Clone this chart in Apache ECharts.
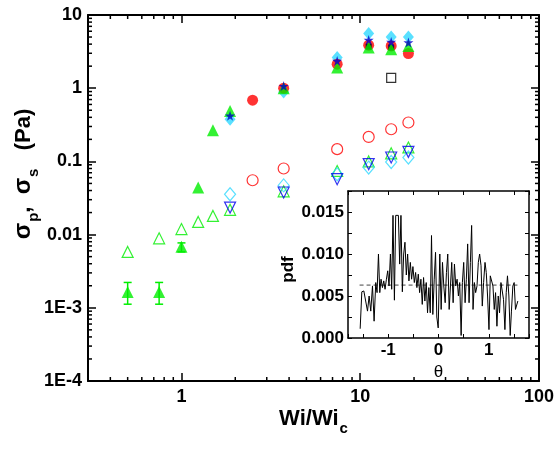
<!DOCTYPE html>
<html><head><meta charset="utf-8">
<script src="https://cdn.jsdelivr.net/npm/echarts@6/dist/echarts.min.js"></script>
<style>html,body{margin:0;padding:0;background:#fff}#c{width:557px;height:449px}</style>
</head><body><div id="c"></div>
<script>
// ---------- main plot data ----------
const greenFilledX = [0.5, 0.75, 1.0, 1.24, 1.5, 1.87, 3.73, 7.43, 11.15, 14.9, 18.6];
const greenFilledY = [0.00165, 0.00165, 0.0068, 0.044, 0.267, 0.49, 1.0, 1.92, 3.6, 3.41, 3.78];
const errX = [0.5, 0.75, 1.0];
const errLow = [0.00112, 0.00112, 0.0058];
const errHigh = [0.00222, 0.00222, 0.0077];
const greenOpenX = [0.5, 0.75, 1.0, 1.24, 1.5, 1.87, 3.73, 7.43, 11.15, 14.9, 18.6];
const greenOpenY = [0.0058, 0.0089, 0.0119, 0.0149, 0.018, 0.0218, 0.039, 0.074, 0.10, 0.129, 0.155];
const redX = [2.5, 3.73, 7.43, 11.15, 14.9, 18.6];
const redFilledY = [0.685, 1.0, 2.13, 3.87, 3.78, 2.98];
const redOpenY = [0.0553, 0.080, 0.147, 0.216, 0.275, 0.34];
const blueX = [1.87, 3.73, 7.43, 11.15, 14.9, 18.6];
const blueFilledY = [0.42, 1.07, 2.36, 4.57, 4.29, 4.21];
const blueOpenY = [0.0234, 0.0376, 0.0571, 0.092, 0.113, 0.135];
const cyanX = [1.87, 3.73, 7.43, 11.15, 14.9, 18.6];
const cyanFilledY = [0.377, 0.89, 2.63, 5.58, 5.02, 5.02];
const cyanOpenY = [0.0356, 0.047, 0.0668, 0.0824, 0.098, 0.113];
const blackFilledX = [11.15, 14.9];
const blackFilledY = [3.7, 3.6];
const blackOpenX = [14.9];
const blackOpenY = [1.38];

const xMinorTicks = [0.4,0.5,0.6,0.7,0.8,0.9,2,3,4,5,6,7,8,9,20,30,40,50,60,70,80,90];
const yMinorTicks = [2e-4,3e-4,4e-4,5e-4,6e-4,7e-4,8e-4,9e-4,2e-3,3e-3,4e-3,5e-3,6e-3,7e-3,8e-3,9e-3,
  0.02,0.03,0.04,0.05,0.06,0.07,0.08,0.09,0.2,0.3,0.4,0.5,0.6,0.7,0.8,0.9,2,3,4,5,6,7,8,9];
const xTickValues = [1, 10, 100];
const xTickText = ['1', '10', '100'];
const yTickValues = [1e-4, 1e-3, 0.01, 0.1, 1, 10];
const yTickText = ['1E-4', '1E-3', '0.01', '0.1', '1', '10'];

// ---------- inset data ----------
const theta = [-1.558,-1.525,-1.485,-1.446,-1.412,-1.380,-1.347,-1.313,-1.281,-1.248,-1.222,-1.194,-1.168,-1.143,-1.115,-1.089,-1.063,-1.036,-1.010,
  -0.984,-0.956,-0.931,-0.905,-0.877,-0.851,-0.826,-0.798,-0.772,-0.747,-0.719,-0.693,-0.667,-0.640,-0.614,-0.588,-0.560,-0.535,-0.509,
  -0.481,-0.455,-0.430,-0.402,-0.376,-0.350,-0.323,-0.297,-0.271,-0.244,-0.218,-0.192,-0.164,-0.139,-0.113,-0.085,-0.059,-0.034,-0.006,
  0.026,0.053,0.079,0.105,0.133,0.158,0.184,0.212,0.238,0.263,0.291,0.317,0.343,0.370,0.396,0.422,0.450,0.475,0.501,
  0.529,0.554,0.580,0.608,0.634,0.659,0.687,0.713,0.739,0.766,0.792,0.818,0.846,0.871,0.897,0.925,0.950,0.976,1.004,
  1.030,1.055,1.083,1.109,1.135,1.162,1.188,1.214,1.242,1.267,1.293,1.321,1.347,1.372,1.400,1.426,1.451,1.479,1.505,1.531,1.558,1.578];
const pdf = [0.0011,0.0055,0.0056,0.0055,0.0032,0.0050,0.0032,0.0062,0.0020,0.0066,0.0054,0.0100,0.0054,0.0070,0.0060,0.0068,0.0058,0.0070,0.0080,
  0.0062,0.0100,0.0058,0.0146,0.0045,0.0146,0.0146,0.0146,0.0088,0.0146,0.0055,0.0100,0.0114,0.0075,0.0100,0.0068,0.0090,0.0070,0.0085,
  0.0066,0.0078,0.0060,0.0076,0.0054,0.0070,0.0040,0.0072,0.0044,0.0066,0.0030,0.0060,0.0030,0.0122,0.0028,0.0070,0.0102,0.0025,0.0012,
  0.0100,0.0034,0.0090,0.0062,0.0042,0.0078,0.0100,0.0034,0.0062,0.0090,0.0042,0.0088,0.0062,0.0070,0.0050,0.0066,0.0003,0.0066,0.0090,
  0.0042,0.0070,0.0112,0.0042,0.0090,0.0134,0.0034,0.0066,0.0054,0.0062,0.0090,0.0100,0.0086,0.0038,0.0066,0.0090,0.0078,0.0050,0.0010,
  0.0074,0.0076,0.0062,0.0034,0.0054,0.0014,0.0050,0.0030,0.0066,0.0066,0.0046,0.0010,0.0054,0.0074,0.0050,0.0003,0.0032,0.0062,0.0066,0.0034,0.0032,0.0044];
const uniformTheta = [-1.57, 1.57];
const uniformPdf = [0.0063, 0.0063];

// ---------- build ----------
const F = "'Liberation Sans', Arial, sans-serif";
const zip = (a, b) => a.map((v, i) => [v, b[i]]);
function logLabel(vals, texts) {
  return v => {
    for (let i = 0; i < vals.length; i++) {
      if (Math.abs(Math.log10(v) - Math.log10(vals[i])) < 1e-6) return texts[i];
    }
    return '';
  };
}
const axisLineS = {show: true, onZero: false, lineStyle: {color: '#000', width: 2}};
const labelS = {color: '#000', fontSize: 18, fontWeight: 'bold', fontFamily: F};

function mainX(pos, showLabel) {
  return {
    gridIndex: 0, type: 'log', logBase: 10, min: 0.3, max: 100, position: pos,
    axisLine: axisLineS,
    axisTick: {show: true, inside: true, length: 8, lineStyle: {color: '#000', width: 1.5}},
    axisLabel: Object.assign({show: showLabel, margin: 7, formatter: logLabel(xTickValues, xTickText)}, labelS),
    splitLine: {show: false}
  };
}
function mainY(pos, showLabel) {
  return {
    gridIndex: 0, type: 'log', logBase: 10, min: 1e-4, max: 10, position: pos,
    axisLine: axisLineS,
    axisTick: {show: true, inside: true, length: 8, lineStyle: {color: '#000', width: 1.5}},
    axisLabel: Object.assign({show: showLabel, margin: 6, formatter: logLabel(yTickValues, yTickText)}, labelS),
    splitLine: {show: false}
  };
}
const insetLabel = {color: '#000', fontSize: 17, fontWeight: 'bold', fontFamily: F};
function insetX(pos, showLabel) {
  return {
    gridIndex: 1, type: 'value', min: -1.8, max: 1.8, splitNumber: 7, position: pos,
    axisLine: {show: true, onZero: false, lineStyle: {color: '#000', width: 1.5}},
    axisTick: {show: true, inside: true, length: 4, lineStyle: {color: '#000', width: 1}},
    axisLabel: Object.assign({show: showLabel, margin: 4,
      formatter: v => (Math.abs(v - Math.round(v)) < 1e-9 ? String(Math.round(v)) : '')}, insetLabel),
    splitLine: {show: false}
  };
}
function insetY(pos, showLabel) {
  return {
    gridIndex: 1, type: 'value', min: 0, max: 0.0175, interval: 0.0025, position: pos,
    axisLine: {show: true, onZero: false, lineStyle: {color: '#000', width: 1.5}},
    axisTick: {show: true, inside: true, length: 4, lineStyle: {color: '#000', width: 1}},
    axisLabel: Object.assign({show: showLabel, margin: 4,
      formatter: v => (Math.abs(v / 0.005 - Math.round(v / 0.005)) < 1e-6 ? v.toFixed(3) : '')}, insetLabel),
    splitLine: {show: false}
  };
}

const richName = {
  a: {fontSize: 22, fontWeight: 'bold', fontFamily: F, color: '#000', lineHeight: 26, verticalAlign: 'bottom'},
  g: {fontSize: 24, fontWeight: 'bold', fontFamily: F, color: '#000', lineHeight: 26, verticalAlign: 'bottom'},
  s: {fontSize: 15, fontWeight: 'bold', fontFamily: F, color: '#000', lineHeight: 15, verticalAlign: 'bottom', padding: [0, 0, -6, 1]}
};
const xa0 = mainX('bottom', true);
xa0.name = '{a|Wi/Wi}{s|c}';
xa0.nameLocation = 'middle';
xa0.nameGap = 23;
xa0.nameMoveOverlap = false;
xa0.nameTextStyle = {rich: richName};
const ya0 = mainY('left', true);
ya0.name = '{g|σ}{s|p}{a|,  }{g|σ}{s|s}{a|   (Pa)}';
ya0.nameLocation = 'middle';
ya0.nameGap = 53;
ya0.nameMoveOverlap = false;
ya0.nameTextStyle = {padding: [0, 0, 0, 48], rich: richName};
const xi0 = insetX('bottom', true);
xi0.name = 'θ';
xi0.nameLocation = 'middle';
xi0.nameGap = 26;
xi0.nameMoveOverlap = false;
xi0.nameTextStyle = {fontSize: 17, fontFamily: F, color: '#000'};
const yi0 = insetY('left', true);
yi0.name = 'pdf';
yi0.nameLocation = 'middle';
yi0.nameGap = 51;
yi0.nameMoveOverlap = false;
yi0.nameTextStyle = {fontSize: 17, fontWeight: 'bold', fontFamily: F, color: '#000', padding: [0, 10, 0, 0]};

function scatter(name, xs, ys, symbol, size, color, open, extra) {
  return Object.assign({
    name, type: 'scatter', xAxisIndex: 0, yAxisIndex: 0, data: zip(xs, ys),
    symbol, symbolSize: size,
    itemStyle: open ? {color: 'rgba(0,0,0,0)', borderColor: color, borderWidth: 1.2} : {color: color, borderColor: color, borderWidth: 0},
    emphasis: {disabled: true}, z: 3
  }, extra || {});
}
const starPath = 'path://M50,0 L61,35 L98,35 L68,57 L79,91 L50,70 L21,91 L32,57 L2,35 L39,35 Z';

const tickLine = (x1, y1, x2, y2) => ({type: 'line', shape: {x1, y1, x2, y2}, style: {stroke: '#000', lineWidth: 1.5}});

const option = {
  backgroundColor: '#fff',
  animation: false,
  grid: [
    {left: 88, right: 15, top: 15, bottom: 68, containLabel: false},
    {left: 348, top: 191, width: 181, height: 147, show: true, backgroundColor: '#fff', borderWidth: 0, z: 10}
  ],
  xAxis: [xa0, mainX('top', false), Object.assign(xi0, {z: 11}), Object.assign(insetX('top', false), {z: 11})],
  yAxis: [ya0, mainY('right', false), Object.assign(yi0, {z: 11}), Object.assign(insetY('right', false), {z: 11})],
  series: [
    {type: 'custom', xAxisIndex: 0, yAxisIndex: 0, silent: true, clip: false, z: 4,
      data: xMinorTicks.map(v => [v, 1]),
      renderItem: (params, api) => {
        const cs = params.coordSys; const x = api.coord([api.value(0), 1])[0];
        const b = cs.y + cs.height;
        return {type: 'group', children: [tickLine(x, b, x, b - 4), tickLine(x, cs.y, x, cs.y + 4)]};
      }},
    {type: 'custom', xAxisIndex: 0, yAxisIndex: 0, silent: true, clip: false, z: 4,
      data: yMinorTicks.map(v => [1, v]),
      renderItem: (params, api) => {
        const cs = params.coordSys; const y = api.coord([1, api.value(1)])[1];
        const r = cs.x + cs.width;
        return {type: 'group', children: [tickLine(cs.x, y, cs.x + 4, y), tickLine(r, y, r - 4, y)]};
      }},
    scatter('σs green', greenOpenX, greenOpenY, 'triangle', 11, '#00ee00', true),
    scatter('σs red', redX, redOpenY, 'circle', 11, '#ff0000', true),
    scatter('σs cyan', cyanX, cyanOpenY, 'diamond', [11, 13], '#30d8ff', true),
    scatter('σs blue', blueX, blueOpenY, 'triangle', 11, '#0000ee', true, {symbolRotate: 180}),
    scatter('σs black', blackOpenX, blackOpenY, 'rect', 9, '#000000', true),
    {type: 'custom', xAxisIndex: 0, yAxisIndex: 0, silent: true, z: 3,
      data: errX.map((x, i) => [x, errLow[i], errHigh[i]]),
      encode: {x: 0, y: [1, 2]},
      renderItem: (params, api) => {
        const lo = api.coord([api.value(0), api.value(1)]);
        const hi = api.coord([api.value(0), api.value(2)]);
        const st = {stroke: '#00ee00', lineWidth: 1.5};
        return {type: 'group', children: [
          {type: 'line', shape: {x1: lo[0], y1: lo[1], x2: hi[0], y2: hi[1]}, style: st},
          {type: 'line', shape: {x1: lo[0] - 4, y1: lo[1], x2: lo[0] + 4, y2: lo[1]}, style: st},
          {type: 'line', shape: {x1: hi[0] - 4, y1: hi[1], x2: hi[0] + 4, y2: hi[1]}, style: st}
        ]};
      }},
    scatter('σp cyan', cyanX, cyanFilledY, 'diamond', [11, 13], '#30d8ff', false),
    scatter('σp red', redX, redFilledY, 'circle', 11, '#ff0000', false),
    scatter('σp black', blackFilledX, blackFilledY, 'rect', 6, '#000000', false),
    scatter('σp green', greenFilledX, greenFilledY, 'triangle', 12, '#00ee00', false),
    scatter('σp blue', blueX, blueFilledY, starPath, 10, '#0000cc', false),
    {name: 'uniform', type: 'line', xAxisIndex: 2, yAxisIndex: 2, data: zip(uniformTheta, uniformPdf),
      symbol: 'none', lineStyle: {color: '#444', width: 1, type: [4, 3]}, z: 12, silent: true},
    {name: 'pdf', type: 'line', xAxisIndex: 2, yAxisIndex: 2, data: zip(theta, pdf),
      symbol: 'none', lineStyle: {color: '#000', width: 1}, z: 13, silent: true}
  ]
};
const chart = echarts.init(document.getElementById('c'), null, {renderer: 'canvas'});
chart.setOption(option);
</script></body></html>
